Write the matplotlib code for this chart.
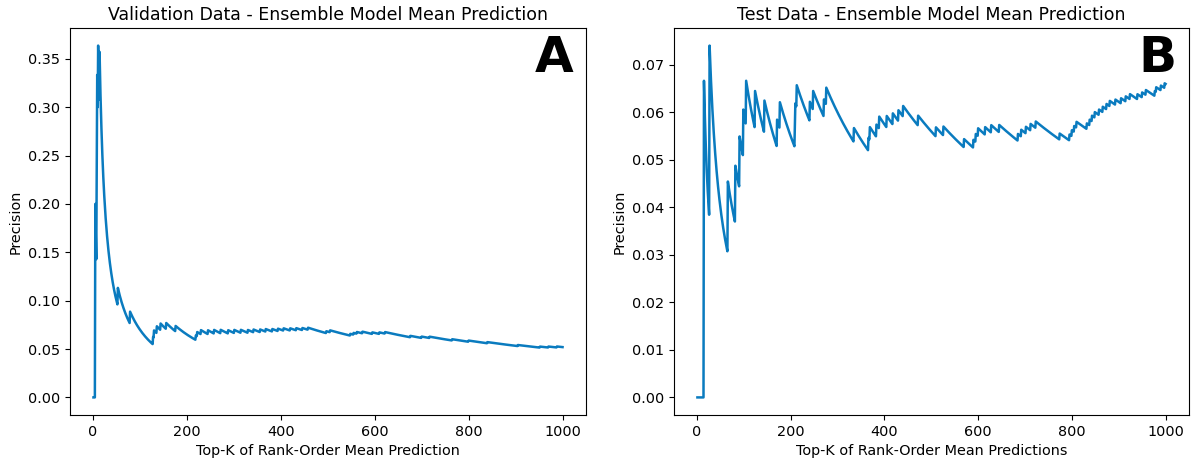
import numpy as np
import matplotlib
matplotlib.use('Agg')
import matplotlib.pyplot as plt

# ranks (Top-K positions) where a true hit appears
val_hit_ranks = [5, 8, 9, 11, 14, 53, 79, 128, 130, 136, 144, 156, 176,
                 219, 222, 230, 245, 258, 272, 288, 301, 315, 330, 342, 356,
                 368, 382, 394, 406, 420, 433, 446, 458, 497, 505, 548, 555,
                 562, 574, 595, 610, 622, 676, 700, 717, 765, 800, 840, 905,
                 952, 970, 988]
test_hit_ranks = [15, 27, 66, 82, 91, 99, 105, 124, 144, 171, 177, 209, 210,
                  213, 241, 248, 271, 276, 335, 366, 369, 383, 389, 405, 418,
                  430, 440, 472, 510, 526, 570, 590, 595, 600, 615, 628, 645,
                  685, 692, 702, 712, 723, 774, 795, 800, 805, 810, 832, 838,
                  843, 849, 858, 866, 874, 881, 893, 905, 915, 924, 940, 950,
                  958, 977, 980, 990, 998]
n_top = 1000

titles = ['Validation Data - Ensemble Model Mean Prediction',
          'Test Data - Ensemble Model Mean Prediction']
xlabels = ['Top-K of Rank-Order Mean Prediction',
           'Top-K of Rank-Order Mean Predictions']
panel_tags = ['A', 'B']


def precision_at_k(hits, n):
	k = np.arange(1, n + 1)
	is_hit = np.zeros(n)
	is_hit[np.array(hits) - 1] = 1
	return k, np.cumsum(is_hit) / k


fig = plt.figure(figsize=(11.91, 4.65), dpi=100)
ax1 = fig.add_axes([70 / 1191, 50 / 465, 516 / 1191, 387 / 465])
ax2 = fig.add_axes([674 / 1191, 50 / 465, 515 / 1191, 387 / 465])

for ax, hits, title, xl, tag in zip([ax1, ax2], [val_hit_ranks, test_hit_ranks],
                                    titles, xlabels, panel_tags):
	k, prec = precision_at_k(hits, n_top)
	ax.plot(k, prec, color='#0a7bbf', linewidth=1.8)
	ax.set_title(title, fontsize=12.5)
	ax.set_xlabel(xl, fontsize=10.4)
	ax.set_ylabel('Precision', fontsize=10.4)
	ax.set_xticks([0, 200, 400, 600, 800, 1000])
	ax.tick_params(labelsize=10.4)
	ax.text(0.975, 0.985, tag, transform=ax.transAxes, ha='right', va='top',
	        fontsize=36, fontweight='bold')

ax1.set_yticks(np.arange(0, 0.36, 0.05))
ax1.yaxis.set_major_formatter(matplotlib.ticker.FormatStrFormatter('%.2f'))
ax2.set_yticks(np.arange(0, 0.071, 0.01))
ax2.yaxis.set_major_formatter(matplotlib.ticker.FormatStrFormatter('%.2f'))

plt.savefig('out.png', dpi=100)
